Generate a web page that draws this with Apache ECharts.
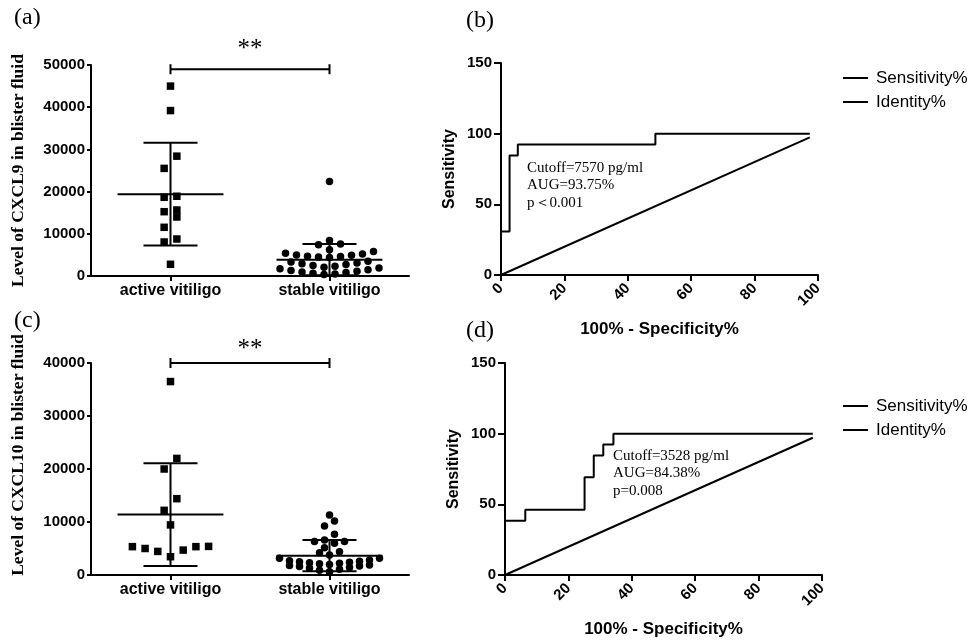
<!DOCTYPE html>
<html>
<head>
<meta charset="utf-8">
<script src="https://cdn.jsdelivr.net/npm/echarts@6/dist/echarts.min.js"></script>
<style>html,body{margin:0;padding:0;background:#fff}#c{width:977px;height:644px}</style>
</head>
<body>
<div id="c"></div>
<script>
// ---------- data ----------
const catLabels = ['active vitiligo', 'stable vitiligo'];
const cxcl9Active = [45000, 39200, 28400, 25500, 18650, 18900, 15640, 15240, 13980, 11540, 8770, 8060, 2770];
const cxcl9Stable = [22400, 8400, 7600, 7400, 6200, 5800, 5400, 5200, 5000, 4900, 4700, 4600, 4500, 4400,
  3500, 3300, 3100, 2900, 2700, 2500, 2300, 2100, 1900, 1700, 1500, 1300, 1100, 950, 800, 650, 500, 350];
const cxcl9Mean = [19400, 3860];
const cxcl9SD = [12200, 3710];
const cxcl10Active = [36500, 22000, 20000, 14400, 12200, 9450, 5400, 5350, 4700, 3450, 4450, 5000, 5350];
const cxcl10Stable = [11340, 10200, 9260, 7690, 6610, 6300, 6300, 5990, 5160, 4400, 4210, 3780, 3150, 3150, 2830,
  2700, 2600, 2500, 2400, 2300, 2200, 2100, 2000, 1900, 1800, 1700, 1600, 1400, 1300, 1100, 900, 600];
const cxcl10Mean = [11400, 3650];
const cxcl10SD = [9700, 2960];
const sigA = [49000, 53800];   // bracket level, asterisk level
const sigC = [40000, 42600];
const rocB = [[0, 30.77], [2.7, 30.77], [2.7, 84.62], [5.3, 84.62], [5.3, 92.31], [48.7, 92.31], [48.7, 100], [97.4, 100]];
const identB = [[0, 0], [97.4, 97.4]];
const rocD = [[0, 38.46], [6.4, 38.46], [6.4, 46.15], [25.1, 46.15], [25.1, 69.23], [28, 69.23], [28, 84.62],
  [31, 84.62], [31, 92.31], [34.2, 92.31], [34.2, 100], [97.1, 100]];
const identD = [[0, 0], [97.1, 97.1]];
const textB = ['Cutoff=7570 pg/ml', 'AUG=93.75%', 'p＜0.001'];
const textD = ['Cutoff=3528 pg/ml', 'AUG=84.38%', 'p=0.008'];

// ---------- styling ----------
const SANS = '"Liberation Sans", Arial, sans-serif';
const SERIF = '"Liberation Serif", "Times New Roman", serif';
const BLACK = '#000';
const chart = echarts.init(document.getElementById('c'), null, {renderer: 'canvas'});

function catAxis(grid) {
  return {
    type: 'category', gridIndex: grid, data: catLabels, boundaryGap: true,
    axisLine: {show: true, lineStyle: {color: BLACK, width: 2}},
    axisTick: {show: true, alignWithLabel: true, length: 5, lineStyle: {color: BLACK, width: 2}},
    axisLabel: {color: BLACK, fontFamily: SANS, fontWeight: 'bold', fontSize: 16, margin: 7},
    splitLine: {show: false}
  };
}
function hiddenX(grid) {
  return {type: 'value', gridIndex: grid, min: 0, max: 2, show: false, splitLine: {show: false}};
}
function levelY(grid, max, interval, name, pad) {
  return {
    type: 'value', gridIndex: grid, min: 0, max: max, interval: interval,
    name: name, nameLocation: 'middle', nameGap: 64, nameRotate: 90,
    nameTextStyle: {fontFamily: SERIF, fontWeight: 'bold', fontSize: 17.5, color: BLACK, padding: pad},
    axisLine: {show: true, lineStyle: {color: BLACK, width: 2}},
    axisTick: {show: true, length: 4, lineStyle: {color: BLACK, width: 2}},
    axisLabel: {color: BLACK, fontFamily: SANS, fontWeight: 'bold', fontSize: 15, margin: 6,
      formatter: v => String(v)},
    splitLine: {show: false}
  };
}
function rocX(grid) {
  return {
    type: 'value', gridIndex: grid, min: 0, max: 100, interval: 20,
    name: '100% - Specificity%', nameLocation: 'middle', nameGap: 46,
    nameTextStyle: {fontFamily: SANS, fontWeight: 'bold', fontSize: 17, color: BLACK},
    axisLine: {show: true, onZero: false, lineStyle: {color: BLACK, width: 2}},
    axisTick: {show: true, length: 6, lineStyle: {color: BLACK, width: 2}},
    axisLabel: {color: BLACK, fontFamily: SANS, fontWeight: 'bold', fontSize: 15, rotate: 45, margin: 11},
    splitLine: {show: false}
  };
}
function rocY(grid) {
  return {
    type: 'value', gridIndex: grid, min: 0, max: 150, interval: 50,
    name: 'Sensitivity', nameLocation: 'middle', nameGap: 43, nameRotate: 90,
    nameTextStyle: {fontFamily: SANS, fontWeight: 'bold', fontSize: 16, color: BLACK},
    axisLine: {show: true, onZero: false, lineStyle: {color: BLACK, width: 2}},
    axisTick: {show: true, length: 7, lineStyle: {color: BLACK, width: 2}},
    axisLabel: {color: BLACK, fontFamily: SANS, fontWeight: 'bold', fontSize: 15, margin: 9},
    splitLine: {show: false}
  };
}

function meanSdItem(params, api) {
  const x = api.value(0), m = api.value(1), s = api.value(2);
  const lo = Math.max(m - s, 0);
  const ls = {stroke: BLACK, lineWidth: 2};
  const a = api.coord([x - 0.333, m]), b = api.coord([x + 0.333, m]);
  const t = api.coord([x, m + s]), u = api.coord([x, lo]);
  const t1 = api.coord([x - 0.17, m + s]), t2 = api.coord([x + 0.17, m + s]);
  const u1 = api.coord([x - 0.17, lo]), u2 = api.coord([x + 0.17, lo]);
  return {type: 'group', children: [
    {type: 'line', shape: {x1: a[0], y1: a[1], x2: b[0], y2: b[1]}, style: ls},
    {type: 'line', shape: {x1: t[0], y1: t[1], x2: u[0], y2: u[1]}, style: ls},
    {type: 'line', shape: {x1: t1[0], y1: t1[1], x2: t2[0], y2: t2[1]}, style: ls},
    {type: 'line', shape: {x1: u1[0], y1: u1[1], x2: u2[0], y2: u2[1]}, style: ls}
  ]};
}
function bracketItem(params, api) {
  const x1 = api.value(0), x2 = api.value(1), y = api.value(2), ys = api.value(3);
  const p = api.coord([x1, y]), q = api.coord([x2, y]), s = api.coord([(x1 + x2) / 2, ys]);
  const ls = {stroke: BLACK, lineWidth: 2};
  return {type: 'group', children: [
    {type: 'line', shape: {x1: p[0], y1: p[1], x2: q[0], y2: q[1]}, style: ls},
    {type: 'line', shape: {x1: p[0], y1: p[1] - 5, x2: p[0], y2: p[1] + 5}, style: ls},
    {type: 'line', shape: {x1: q[0], y1: q[1] - 5, x2: q[0], y2: q[1] + 5}, style: ls},
    {type: 'text', x: s[0], y: s[1], style: {text: '**', fill: BLACK, font: '25px ' + SERIF, align: 'center', verticalAlign: 'middle'}}
  ]};
}

function scatterSeries(xi, yi, vals, center, symbol) {
  return {type: 'scatter', xAxisIndex: xi, yAxisIndex: yi, symbol: symbol, symbolSize: 7.5,
    itemStyle: {color: BLACK, opacity: 1}, silent: true, z: 3,
    data: vals.map(v => [center, v])};
}

const legendBase = {orient: 'vertical', icon: 'rect', itemWidth: 25, itemHeight: 2, itemGap: 6,
  data: ['Sensitivity%', 'Identity%'], selectedMode: false,
  textStyle: {color: BLACK, fontFamily: SANS, fontSize: 17, lineHeight: 18, padding: [0, 0, 0, 3]}};

const option = {
  animation: false,
  backgroundColor: '#fff',
  grid: [
    {left: 91, top: 65, width: 318, height: 211},
    {left: 91, top: 363, width: 318, height: 212},
    {left: 501, top: 63, width: 317, height: 212},
    {left: 505, top: 363, width: 317, height: 212}
  ],
  xAxis: [catAxis(0), hiddenX(0), catAxis(1), hiddenX(1), rocX(2), rocX(3)],
  yAxis: [
    levelY(0, 50000, 10000, 'Level of CXCL9 in blister fluid', [0, 0, 0, 0]),
    levelY(1, 40000, 10000, 'Level of CXCL10 in blister fluid', [0, 0, 0, 28]),
    rocY(2), rocY(3)
  ],
  legend: [
    Object.assign({left: 838, top: 64}, legendBase),
    Object.assign({left: 838, top: 392}, legendBase)
  ],
  graphic: [
    {type: 'text', left: 14, top: 6, style: {text: '(a)', font: '24px ' + SERIF, fill: BLACK}},
    {type: 'text', left: 466, top: 9, style: {text: '(b)', font: '24px ' + SERIF, fill: BLACK}},
    {type: 'text', left: 14, top: 309, style: {text: '(c)', font: '24px ' + SERIF, fill: BLACK}},
    {type: 'text', left: 466, top: 319, style: {text: '(d)', font: '24px ' + SERIF, fill: BLACK}},
    {type: 'text', left: 527, top: 159, style: {text: textB.join('\n'), font: '15px ' + SERIF, lineHeight: 17.5, fill: BLACK}},
    {type: 'text', left: 613, top: 447, style: {text: textD.join('\n'), font: '15px ' + SERIF, lineHeight: 17.5, fill: BLACK}}
  ],
  series: [
    scatterSeries(1, 0, cxcl9Active, 0.5, 'rect'),
    scatterSeries(1, 0, cxcl9Stable, 1.5, 'circle'),
    {type: 'custom', xAxisIndex: 1, yAxisIndex: 0, renderItem: meanSdItem, silent: true, z: 4,
      data: [[0.5, cxcl9Mean[0], cxcl9SD[0]], [1.5, cxcl9Mean[1], cxcl9SD[1]]]},
    {type: 'custom', xAxisIndex: 1, yAxisIndex: 0, renderItem: bracketItem, silent: true, clip: false,
      data: [[0.5, 1.5, sigA[0], sigA[1]]]},
    scatterSeries(3, 1, cxcl10Active, 0.5, 'rect'),
    scatterSeries(3, 1, cxcl10Stable, 1.5, 'circle'),
    {type: 'custom', xAxisIndex: 3, yAxisIndex: 1, renderItem: meanSdItem, silent: true, z: 4,
      data: [[0.5, cxcl10Mean[0], cxcl10SD[0]], [1.5, cxcl10Mean[1], cxcl10SD[1]]]},
    {type: 'custom', xAxisIndex: 3, yAxisIndex: 1, renderItem: bracketItem, silent: true, clip: false,
      data: [[0.5, 1.5, sigC[0], sigC[1]]]},
    {name: 'Sensitivity%', type: 'line', xAxisIndex: 4, yAxisIndex: 2, data: rocB, symbol: 'none',
      color: BLACK, lineStyle: {color: BLACK, width: 2}},
    {name: 'Identity%', type: 'line', xAxisIndex: 4, yAxisIndex: 2, data: identB, symbol: 'none',
      color: BLACK, lineStyle: {color: BLACK, width: 2}},
    {name: 'Sensitivity%', type: 'line', xAxisIndex: 5, yAxisIndex: 3, data: rocD, symbol: 'none',
      color: BLACK, lineStyle: {color: BLACK, width: 2}},
    {name: 'Identity%', type: 'line', xAxisIndex: 5, yAxisIndex: 3, data: identD, symbol: 'none',
      color: BLACK, lineStyle: {color: BLACK, width: 2}}
  ]
};
chart.setOption(option);

// ---------- row-binned dot-plot layout (through the axes' own pixel scales) ----------
// Points taken from low to high are grouped into rows of height H pixels; the points
// of a row are centred on the category, lowest in the middle, spaced S pixels apart.
function rowLayout(ysPix, H, S) {
  const order = ysPix.map((y, i) => i).sort((a, b) => ysPix[b] - ysPix[a]);
  const rows = [];
  let cur = null;
  order.forEach(i => {
    if (cur && cur.start - ysPix[i] < H) cur.items.push(i);
    else { cur = {start: ysPix[i], items: [i]}; rows.push(cur); }
  });
  const off = new Array(ysPix.length).fill(0);
  rows.forEach(r => {
    const n = r.items.length;
    r.items.forEach((i, k) => {
      let slot;
      if (n % 2) slot = k === 0 ? 0 : (k % 2 ? -1 : 1) * Math.ceil(k / 2);
      else slot = (k % 2 ? 1 : -1) * (Math.floor(k / 2) + 0.5);
      off[i] = slot * S;
    });
  });
  return off;
}
function layoutData(xi, yi, vals, center, H, S) {
  const ppu = chart.convertToPixel({xAxisIndex: xi}, 1) - chart.convertToPixel({xAxisIndex: xi}, 0);
  const ys = vals.map(v => chart.convertToPixel({yAxisIndex: yi}, v));
  const off = rowLayout(ys, H, S);
  return vals.map((v, i) => [center + off[i] / ppu, v]);
}
const upd = option.series.map(() => ({}));
upd[0] = {data: layoutData(1, 0, cxcl9Active, 0.5, 14, 12.7)};
upd[1] = {data: layoutData(1, 0, cxcl9Stable, 1.5, 7, 11)};
upd[4] = {data: layoutData(3, 1, cxcl10Active, 0.5, 14, 12.7)};
upd[5] = {data: layoutData(3, 1, cxcl10Stable, 1.5, 7, 10)};
chart.setOption({series: upd});
</script>
</body>
</html>
